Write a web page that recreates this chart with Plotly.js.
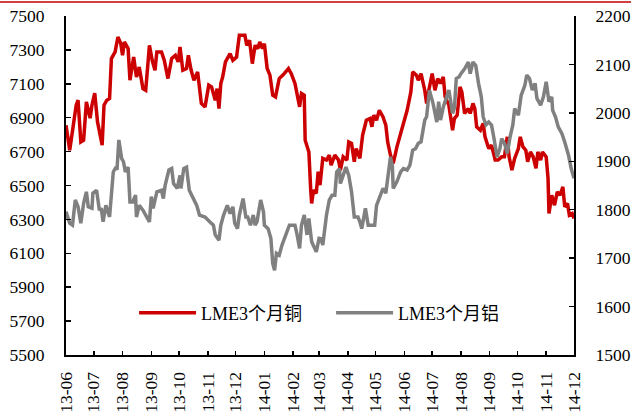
<!DOCTYPE html>
<html>
<head>
<meta charset="utf-8">
<script src="https://cdn.plot.ly/plotly-3.0.1.min.js"></script>
<style>html,body{margin:0;padding:0;background:#fff;}#chart{width:631px;height:414px;}</style>
</head>
<body>
<div id="chart"></div>
<script>
var seriesNames = ['LME3个月铜', 'LME3个月铝'];

var copperDates = [
'2013-06-01','2013-06-05','2013-06-12','2013-06-14','2013-06-17','2013-06-20','2013-06-23','2013-06-27','2013-06-29',
'2013-07-02','2013-07-05','2013-07-10','2013-07-12','2013-07-15','2013-07-18','2013-07-20','2013-07-24','2013-07-27','2013-07-30',
'2013-08-01','2013-08-03','2013-08-07','2013-08-09','2013-08-13','2013-08-16','2013-08-19','2013-08-23','2013-08-26','2013-08-30',
'2013-09-02','2013-09-05','2013-09-07','2013-09-12','2013-09-15','2013-09-19','2013-09-23','2013-09-27','2013-09-30',
'2013-10-02','2013-10-05','2013-10-09','2013-10-11','2013-10-14','2013-10-17','2013-10-21','2013-10-25','2013-10-29',
'2013-11-02','2013-11-05','2013-11-09','2013-11-11','2013-11-13','2013-11-15','2013-11-17','2013-11-20','2013-11-25','2013-11-28',
'2013-12-02','2013-12-05','2013-12-11','2013-12-13','2013-12-16','2013-12-19','2013-12-22','2013-12-25','2013-12-27','2013-12-30',
'2014-01-01','2014-01-04','2014-01-07','2014-01-10','2014-01-13','2014-01-17','2014-01-21','2014-01-27','2014-01-30',
'2014-02-03','2014-02-06','2014-02-08','2014-02-10','2014-02-13','2014-02-14','2014-02-18','2014-02-20','2014-02-21','2014-02-23','2014-02-26','2014-02-28',
'2014-03-02','2014-03-05','2014-03-09','2014-03-12','2014-03-14','2014-03-18','2014-03-22','2014-03-24','2014-03-27','2014-03-31',
'2014-04-02','2014-04-05','2014-04-08','2014-04-10','2014-04-14','2014-04-17','2014-04-21','2014-04-25','2014-04-27','2014-04-29',
'2014-05-02','2014-05-05','2014-05-09','2014-05-12','2014-05-14','2014-05-17','2014-05-20','2014-05-24','2014-05-28','2014-05-31',
'2014-06-04','2014-06-08','2014-06-10','2014-06-14','2014-06-16','2014-06-19','2014-06-23','2014-06-25','2014-06-27',
'2014-07-01','2014-07-04','2014-07-07','2014-07-10','2014-07-13','2014-07-15','2014-07-19','2014-07-23','2014-07-25','2014-07-28','2014-07-31',
'2014-08-02','2014-08-05','2014-08-09','2014-08-11','2014-08-14','2014-08-16','2014-08-18','2014-08-22','2014-08-25','2014-08-27','2014-08-31',
'2014-09-03','2014-09-07','2014-09-10','2014-09-14','2014-09-17','2014-09-20','2014-09-22','2014-09-25','2014-09-28',
'2014-10-02','2014-10-04','2014-10-07','2014-10-10','2014-10-12','2014-10-15','2014-10-18','2014-10-21','2014-10-23','2014-10-26','2014-10-28',
'2014-11-01','2014-11-03','2014-11-04','2014-11-07','2014-11-10','2014-11-13','2014-11-16','2014-11-19','2014-11-21','2014-11-24','2014-11-26','2014-11-29',
'2014-12-01'];

var copperValues = [
6856,6708,6974,7003,6757,6767,6993,6897,6974,
7045,6875,6738,6974,7003,7013,7249,7288,7376,7339,
7268,7347,7308,7121,7258,7140,7199,7072,7062,7327,
7239,7180,7288,7288,7239,7131,7249,7268,7229,
7317,7180,7190,7268,7180,7121,7170,6984,6964,
7092,7082,7003,7072,6954,7102,7140,7229,7278,7239,
7258,7386,7386,7327,7357,7219,7327,7308,7347,7308,
7337,7190,7151,7033,7023,7131,7151,7190,7160,
7102,7023,6964,7043,7033,6767,6698,6473,6394,6473,6453,6581,
6502,6660,6650,6679,6620,6679,6650,6591,6669,6650,
6757,6748,6640,6718,6660,6797,6885,6895,6846,6915,
6885,6944,6905,6856,6757,6679,6630,6728,6816,6866,
6944,7052,7170,7151,7121,7160,7062,6984,7052,
7160,7062,7131,7102,7140,7023,6974,6826,6895,6915,7082,
7052,6925,6954,6925,6984,6954,6846,6826,6866,6787,6718,
6738,6650,6650,6669,6669,6787,6669,6591,6660,
6718,6787,6728,6708,6640,6698,6669,6601,6698,6650,6698,
6669,6542,6335,6443,6384,6463,6443,6492,6374,6394,6325,6335,
6306];

var aluminumDates = [
'2013-06-01','2013-06-05','2013-06-08','2013-06-11','2013-06-14','2013-06-17','2013-06-20','2013-06-23','2013-06-25','2013-06-29','2013-06-30',
'2013-07-04','2013-07-07','2013-07-09','2013-07-11','2013-07-14','2013-07-18','2013-07-20','2013-07-22','2013-07-25','2013-07-26','2013-07-28','2013-07-31',
'2013-08-02','2013-08-04','2013-08-07','2013-08-09','2013-08-12','2013-08-15','2013-08-16','2013-08-19','2013-08-23','2013-08-26','2013-08-30',
'2013-09-01','2013-09-03','2013-09-07','2013-09-12','2013-09-14','2013-09-16','2013-09-20','2013-09-23','2013-09-25','2013-09-29',
'2013-10-02','2013-10-03','2013-10-06','2013-10-09','2013-10-12','2013-10-16','2013-10-20','2013-10-23','2013-10-29',
'2013-11-03','2013-11-07','2013-11-09','2013-11-13','2013-11-15','2013-11-18','2013-11-22','2013-11-25','2013-11-28','2013-11-30',
'2013-12-03','2013-12-05','2013-12-09','2013-12-12','2013-12-14','2013-12-17','2013-12-20','2013-12-22','2013-12-24','2013-12-28','2013-12-31',
'2014-01-01','2014-01-05','2014-01-08','2014-01-10','2014-01-12','2014-01-14','2014-01-17','2014-01-20','2014-01-23','2014-01-25','2014-01-28','2014-01-31',
'2014-02-03','2014-02-05','2014-02-08','2014-02-10','2014-02-13','2014-02-16','2014-02-18','2014-02-21','2014-02-23','2014-02-26',
'2014-03-01','2014-03-03','2014-03-05','2014-03-07','2014-03-09','2014-03-12','2014-03-15','2014-03-18','2014-03-20','2014-03-23','2014-03-24','2014-03-27','2014-03-30',
'2014-04-02','2014-04-05','2014-04-08','2014-04-12','2014-04-14','2014-04-16','2014-04-20','2014-04-23','2014-04-26','2014-04-30',
'2014-05-02','2014-05-05','2014-05-09','2014-05-12','2014-05-14','2014-05-17','2014-05-19','2014-05-20','2014-05-24','2014-05-28','2014-05-31',
'2014-06-04','2014-06-07','2014-06-10','2014-06-13','2014-06-16','2014-06-19','2014-06-23','2014-06-25','2014-06-28',
'2014-07-02','2014-07-04','2014-07-06','2014-07-08','2014-07-10','2014-07-13','2014-07-16','2014-07-19','2014-07-23','2014-07-25','2014-07-27','2014-07-30',
'2014-08-01','2014-08-05','2014-08-09','2014-08-11','2014-08-14','2014-08-17','2014-08-20','2014-08-23','2014-08-25','2014-08-28','2014-08-31',
'2014-09-03','2014-09-06','2014-09-09','2014-09-12','2014-09-14','2014-09-17','2014-09-20','2014-09-23','2014-09-26','2014-09-28',
'2014-10-02','2014-10-05','2014-10-09','2014-10-11','2014-10-14','2014-10-17','2014-10-20','2014-10-22','2014-10-26','2014-10-29',
'2014-11-01','2014-11-04','2014-11-07','2014-11-08','2014-11-11','2014-11-14','2014-11-18','2014-11-21','2014-11-25','2014-11-28',
'2014-12-01'];

var aluminumValues = [
1796,1772,1768,1820,1806,1772,1813,1837,1806,1803,1834,
1840,1799,1803,1775,1809,1785,1823,1878,1888,1882,1944,1906,
1899,1878,1888,1816,1816,1830,1785,1809,1799,1789,1775,
1827,1803,1837,1840,1823,1851,1882,1885,1854,1844,
1871,1844,1885,1888,1840,1823,1809,1789,1785,
1775,1768,1748,1737,1768,1789,1809,1792,1806,1772,
1761,1789,1823,1785,1785,1768,1789,1768,1775,1820,1796,
1768,1761,1741,1689,1675,1710,1706,1727,1741,1754,1768,1768,
1768,1751,1720,1768,1789,1748,1782,1734,1727,1713,
1741,1740,1727,1761,1789,1820,1830,1830,1878,1885,1854,1871,1888,
1871,1837,1785,1785,1775,1761,1803,1768,1768,1768,
1809,1823,1844,1834,1865,1909,1892,1844,1858,1878,1885,
1882,1892,1923,1926,1937,1940,1985,1992,2047,
2019,2002,1981,2023,1985,2012,2030,2047,1999,2010,2071,2074,
2081,2091,2105,2081,2105,2098,2061,2033,1992,1975,1981,
1975,1944,1909,1926,1947,1937,1916,1950,1975,2009,
1995,2036,2057,2078,2071,2047,2061,2030,2016,2033,
2064,2023,2033,2005,1992,1971,1957,1940,1913,1885,
1865];

var FONT = 'Liberation Serif, "Times New Roman", "Noto Sans CJK SC", serif';

var traces = [
  {x: copperDates, y: copperValues, name: seriesNames[0], type: 'scatter', mode: 'lines',
   line: {color: '#CC0000', width: 3.5}, yaxis: 'y'},
  {x: aluminumDates, y: aluminumValues, name: seriesNames[1], type: 'scatter', mode: 'lines',
   line: {color: '#808080', width: 3.5}, yaxis: 'y2'}
];

var axisCommon = {
  showline: true, linecolor: '#000', linewidth: 2, showgrid: false, zeroline: false,
  ticks: 'inside', tickcolor: '#000', tickwidth: 1.5,
  tickfont: {family: FONT, size: 17.5, color: '#000'}
};

var layout = {
  width: 631, height: 414,
  margin: {l: 66, r: 57, t: 16, b: 59},
  paper_bgcolor: '#fff', plot_bgcolor: '#fff',
  showlegend: true,
  legend: {orientation: 'h', x: 0.134, y: 0.124, xanchor: 'left', yanchor: 'middle',
           bgcolor: 'rgba(0,0,0,0)', font: {family: FONT, size: 18, color: '#000'},
           itemwidth: 57, entrywidth: 125, entrywidthmode: 'pixels'},
  xaxis: Object.assign({}, axisCommon, {
    type: 'date', range: ['2013-06-01', '2014-12-01'], tick0: '2013-06-01', dtick: 'M1',
    tickformat: '%y-%m', tickangle: -90, ticklen: 4, ticklabelstandoff: 8
  }),
  yaxis: Object.assign({}, axisCommon, {
    range: [5500, 7500], dtick: 200, tick0: 5500, ticklen: 5, ticklabelstandoff: 16
  }),
  yaxis2: Object.assign({}, axisCommon, {
    range: [1500, 2200], dtick: 100, tick0: 1500, ticklen: 5, overlaying: 'y', side: 'right',
    ticklabelstandoff: 16
  }),
  shapes: [
    {type: 'line', xref: 'paper', yref: 'paper', x0: -0.2, x1: 1.2, y0: 1.0413, y1: 1.0413,
     line: {color: '#C00000', width: 1.5}}
  ]
};

Plotly.newPlot('chart', traces, layout, {displayModeBar: false, staticPlot: true});
</script>
</body>
</html>
